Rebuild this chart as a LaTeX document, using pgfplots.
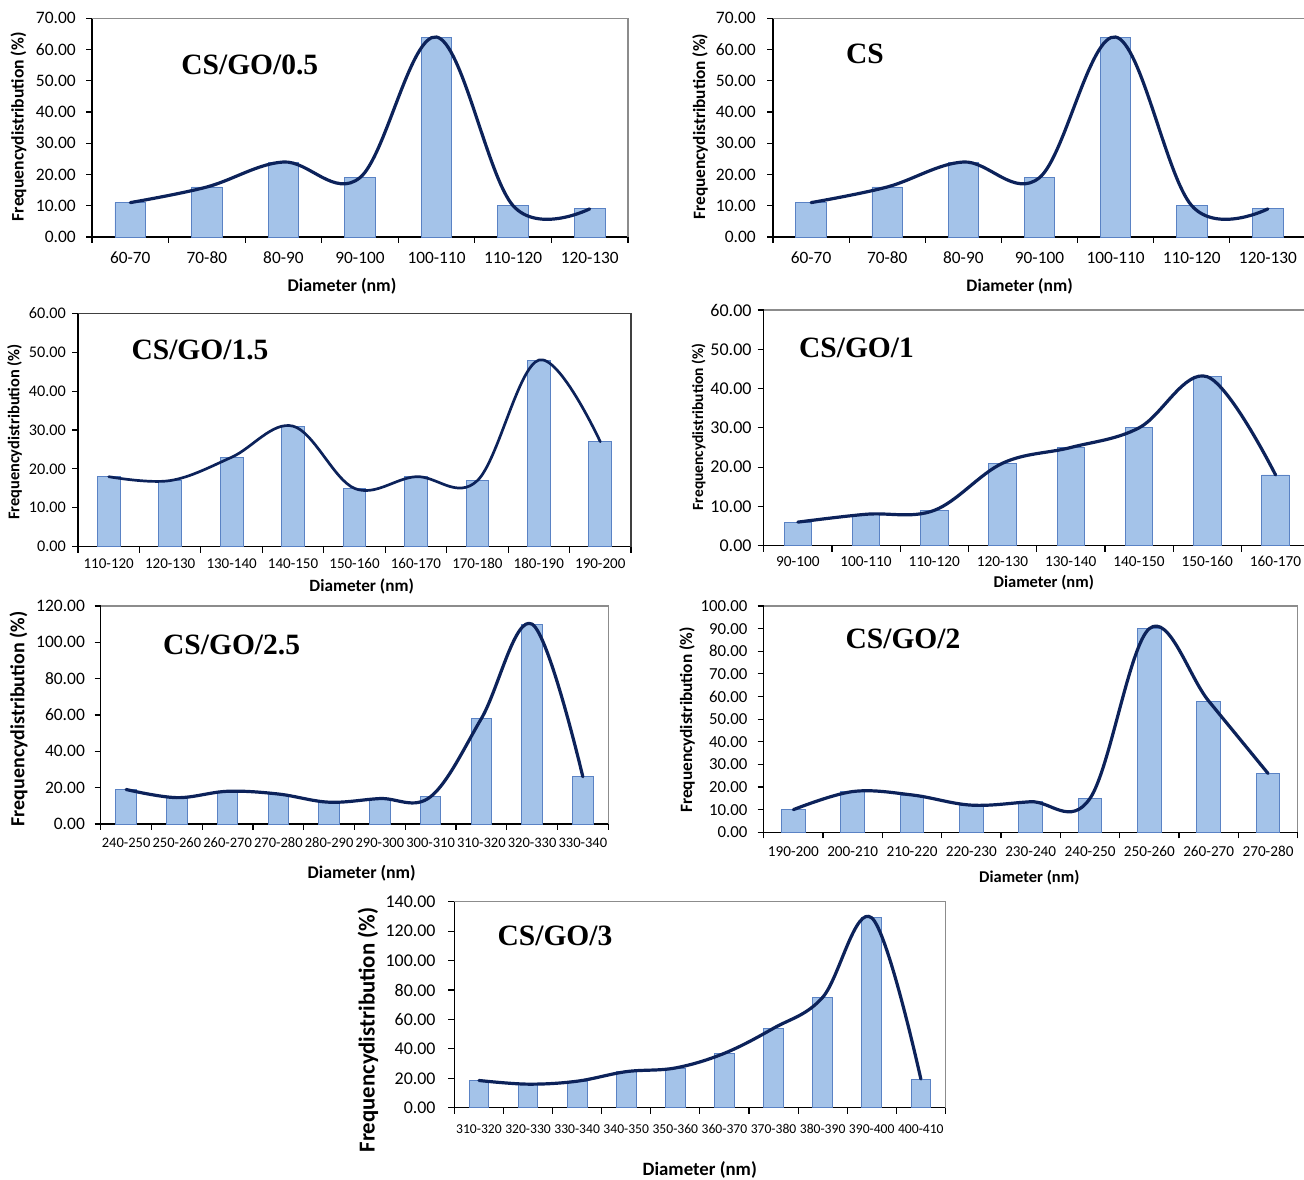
\documentclass[border=0pt]{standalone}
\usepackage{pgfplots}
\pgfplotsset{compat=1.18}
\usepackage{fontspec}
\setmainfont{Carlito}
\newfontfamily\titlefont{Liberation Serif}
\definecolor{barfill}{RGB}{164,195,233}
\definecolor{baredge}{RGB}{90,130,196}
\definecolor{curvecol}{RGB}{12,34,90}
\definecolor{framecol}{RGB}{140,140,140}
\newcommand{\fs}[1]{\fontsize{#1pt}{#1pt}\selectfont}
\pgfplotsset{
  panel/.style={
    scale only axis,
    axis x line*=bottom, axis y line*=left,
    axis line style={black, line width=1.1pt},
    tick align=outside,
    major tick length=6pt,
    tick style={black, line width=1.1pt},
    ymin=0,
    x tick label as interval,
    yticklabel style={/pgf/number format/fixed, /pgf/number format/fixed zerofill, /pgf/number format/precision=2, /pgf/number format/assume math mode=true, /pgf/number format/1000 sep={}},
    yticklabel style={anchor=east, inner sep=0pt},
    xticklabel style={anchor=base, inner sep=0pt},
    clip=false,
  },
  bars/.style={ybar, bar shift=0pt, bar width=0.4, fill=barfill, draw=baredge, line width=0.9pt},
  fit/.style={draw=curvecol, line width=3.2pt, smooth, tension=0.6, line join=round, line cap=round, mark=none},
}
\begin{document}
\begin{tikzpicture}
\useasboundingbox (0,0) rectangle (1304pt,1180pt);

% ---------- Panel 1: CS/GO/0.5 ----------
\begin{axis}[panel, at={(92pt,943pt)}, anchor=south west,
  width=536pt, height=218.7pt,
  xmin=-0.5, xmax=6.5, ymax=70, ytick distance=10,
  xtick={-0.5,0.5,...,6.5},
  xticklabels={60-70,70-80,80-90,90-100,100-110,110-120,120-130},
  yticklabel style={font=\fs{17.5}, xshift=-10pt},
  xticklabel style={font=\fs{17.3}, yshift=-20.3pt}]
\addplot[bars] coordinates {(0,11) (1,16) (2,24) (3,19) (4,64) (5,10) (6,9)};
\addplot[fit] coordinates {(0,11) (1,16) (2,24) (3,19) (4,64) (5,10) (6,9)};
\draw[framecol, line width=1.2pt] (rel axis cs:0,1) -- (rel axis cs:1,1) -- (rel axis cs:1,0);
\end{axis}

% ---------- Panel 2: CS ----------
\begin{axis}[panel, at={(773pt,943pt)}, anchor=south west,
  width=533pt, height=218.7pt,
  xmin=-0.5, xmax=6.5, ymax=70, ytick distance=10,
  xtick={-0.5,0.5,...,6.5},
  xticklabels={60-70,70-80,80-90,90-100,100-110,110-120,120-130},
  yticklabel style={font=\fs{17.5}, xshift=-11pt},
  xticklabel style={font=\fs{17.3}, yshift=-20.3pt}]
\addplot[bars] coordinates {(0,11) (1,16) (2,24) (3,19) (4,64) (5,10) (6,9)};
\addplot[fit] coordinates {(0,11) (1,16) (2,24) (3,19) (4,64) (5,10) (6,9)};
\draw[framecol, line width=1.2pt] (rel axis cs:0,1) -- (rel axis cs:1,1) -- (rel axis cs:1,0);
\end{axis}

% ---------- Panel 3: CS/GO/1.5 ----------
\begin{axis}[panel, at={(78pt,633.3pt)}, anchor=south west,
  width=553pt, height=233.3pt,
  xmin=-0.5, xmax=8.5, ymax=60, ytick distance=10,
  xtick={-0.5,0.5,...,8.5},
  xticklabels={110-120,120-130,130-140,140-150,150-160,160-170,170-180,180-190,190-200},
  yticklabel style={font=\fs{16.2}, xshift=-6pt},
  xticklabel style={font=\fs{15}, yshift=-16.2pt}]
\addplot[bars, bar width=0.37] coordinates {(0,18) (1,17) (2,23) (3,31) (4,15) (5,18) (6,17) (7,48) (8,27)};
\addplot[fit, line width=2.7pt] coordinates {(0,18) (1,17) (2,23) (3,31) (4,15) (5,18) (6,17) (7,48) (8,27)};
\draw[black!75, line width=1.6pt] (rel axis cs:0,1) -- (rel axis cs:1,1) -- (rel axis cs:1,0);
\end{axis}

% ---------- Panel 4: CS/GO/1 ----------
\begin{axis}[panel, at={(763.7pt,634.3pt)}, anchor=south west,
  width=546pt, height=235.7pt,
  xmin=-0.5, xmax=7.5, ymax=60, ytick distance=10,
  xtick={-0.5,0.5,...,7.5},
  xticklabels={90-100,100-110,110-120,120-130,130-140,140-150,150-160,160-170},
  yticklabel style={font=\fs{18}, xshift=-6pt},
  xticklabel style={font=\fs{15.3}, yshift=-15.3pt}]
\addplot[bars] coordinates {(0,6) (1,8) (2,9) (3,21) (4,25) (5,30) (6,43) (7,18)};
\addplot[fit] coordinates {(0,6) (1,8) (2,9) (3,21) (4,25) (5,30) (6,43) (7,18)};
\draw[framecol, line width=1.2pt] (rel axis cs:0,1) -- (rel axis cs:1,1) -- (rel axis cs:1,0);
\end{axis}

% ---------- Panel 5: CS/GO/2.5 ----------
\begin{axis}[panel, at={(100.7pt,356pt)}, anchor=south west,
  width=507.5pt, height=218pt,
  xmin=-0.5, xmax=9.5, ymax=120, ytick distance=20,
  xtick={-0.5,0.5,...,9.5},
  xticklabels={240-250,250-260,260-270,270-280,280-290,290-300,300-310,310-320,320-330,330-340},
  yticklabel style={font=\fs{17.5}, xshift=-9.6pt},
  xticklabel style={font=\fs{14.5}, yshift=-17.6pt}]
\addplot[bars] coordinates {(0,19) (1,14.5) (2,18) (3,16.5) (4,12) (5,14) (6,15) (7,58) (8,110) (9,26)};
\addplot[fit] coordinates {(0,19) (1,14.5) (2,18) (3,16.5) (4,12) (5,14) (6,15) (7,58) (8,110) (9,26)};
\draw[framecol, line width=1.2pt] (rel axis cs:0,1) -- (rel axis cs:1,1) -- (rel axis cs:1,0);
\end{axis}

% ---------- Panel 6: CS/GO/2 ----------
\begin{axis}[panel, at={(763.7pt,347.7pt)}, anchor=south west,
  width=534pt, height=226.3pt,
  xmin=-0.5, xmax=8.5, ymax=100, ytick distance=10,
  xtick={-0.5,0.5,...,8.5},
  xticklabels={190-200,200-210,210-220,220-230,230-240,240-250,250-260,260-270,270-280},
  yticklabel style={font=\fs{16.8}, xshift=-10pt},
  xticklabel style={font=\fs{15.2}, yshift=-18.5pt}]
\addplot[bars] coordinates {(0,10) (1,18) (2,16.5) (3,12) (4,13.5) (5,15) (6,90) (7,58) (8,26)};
\addplot[fit] coordinates {(0,10) (1,18) (2,16.5) (3,12) (4,13.5) (5,15) (6,90) (7,58) (8,26)};
\draw[framecol, line width=1.2pt] (rel axis cs:0,1) -- (rel axis cs:1,1) -- (rel axis cs:1,0);
\end{axis}

% ---------- Panel 7: CS/GO/3 ----------
\begin{axis}[panel, at={(454.4pt,72.3pt)}, anchor=south west,
  width=491pt, height=206pt,
  xmin=-0.5, xmax=9.5, ymax=140, ytick distance=20,
  xtick={-0.5,0.5,...,9.5},
  xticklabels={310-320,320-330,330-340,340-350,350-360,360-370,370-380,380-390,390-400,400-410},
  yticklabel style={font=\fs{17.9}, xshift=-12.7pt},
  xticklabel style={font=\fs{13.6}, yshift=-20.3pt}]
\addplot[bars] coordinates {(0,18.5) (1,16) (2,18) (3,24.5) (4,27) (5,37) (6,54) (7,75) (8,129) (9,19.5)};
\addplot[fit] coordinates {(0,18.5) (1,16) (2,18) (3,24.5) (4,27) (5,37) (6,54) (7,75) (8,129) (9,19.5)};
\draw[framecol, line width=1.2pt] (rel axis cs:0,1) -- (rel axis cs:1,1) -- (rel axis cs:1,0);
\end{axis}

% ---------- titles ----------
\begin{scope}[every node/.style={anchor=base, inner sep=0pt, font=\titlefont\bfseries\fs{29.5}}]
\node at (249.8pt,1105pt) {CS/GO/0.5};
\node at (865pt,1116.7pt) {CS};
\node at (200pt,820.7pt) {CS/GO/1.5};
\node at (856.5pt,822.7pt) {CS/GO/1};
\node at (231.6pt,525.7pt) {CS/GO/2.5};
\node at (903pt,531pt) {CS/GO/2};
\node at (555pt,234pt) {CS/GO/3};
\end{scope}

% ---------- x labels ----------
\node[font=\bfseries\fs{17.9}] at (342pt,893.3pt) {Diameter (nm)};
\node[font=\bfseries\fs{17.5}] at (1019.6pt,893.3pt) {Diameter (nm)};
\node[font=\bfseries\fs{17.2}] at (361.7pt,594pt) {Diameter (nm)};
\node[font=\bfseries\fs{16.5}] at (1043.8pt,597.3pt) {Diameter (nm)};
\node[font=\bfseries\fs{17.8}] at (361.7pt,306.7pt) {Diameter (nm)};
\node[font=\bfseries\fs{16.5}] at (1029.3pt,302.3pt) {Diameter (nm)};
\node[font=\bfseries\fs{18.8}] at (699.8pt,10pt) {Diameter (nm)};

% ---------- y labels ----------
\node[rotate=90, font=\bfseries\fs{17.6}] at (18.5pt,1053.3pt) {Frequencydistribution (\%)};
\node[rotate=90, font=\bfseries\fs{17.3}] at (700pt,1053.3pt) {Frequencydistribution (\%)};
\node[rotate=90, font=\bfseries\fs{16.4}] at (14.5pt,748pt) {Frequencydistribution (\%)};
\node[rotate=90, font=\bfseries\fs{15.5}] at (698.6pt,753pt) {Frequencydistribution (\%)};
\node[rotate=90, font=\bfseries\fs{20}] at (18.5pt,461pt) {Frequencydistribution (\%)};
\node[rotate=90, font=\bfseries\fs{17.3}] at (687pt,460pt) {Frequencydistribution (\%)};
\node[rotate=90, font=\bfseries\fs{22.8}] at (368pt,150pt) {Frequencydistribution (\%)};
\end{tikzpicture}
\end{document}
